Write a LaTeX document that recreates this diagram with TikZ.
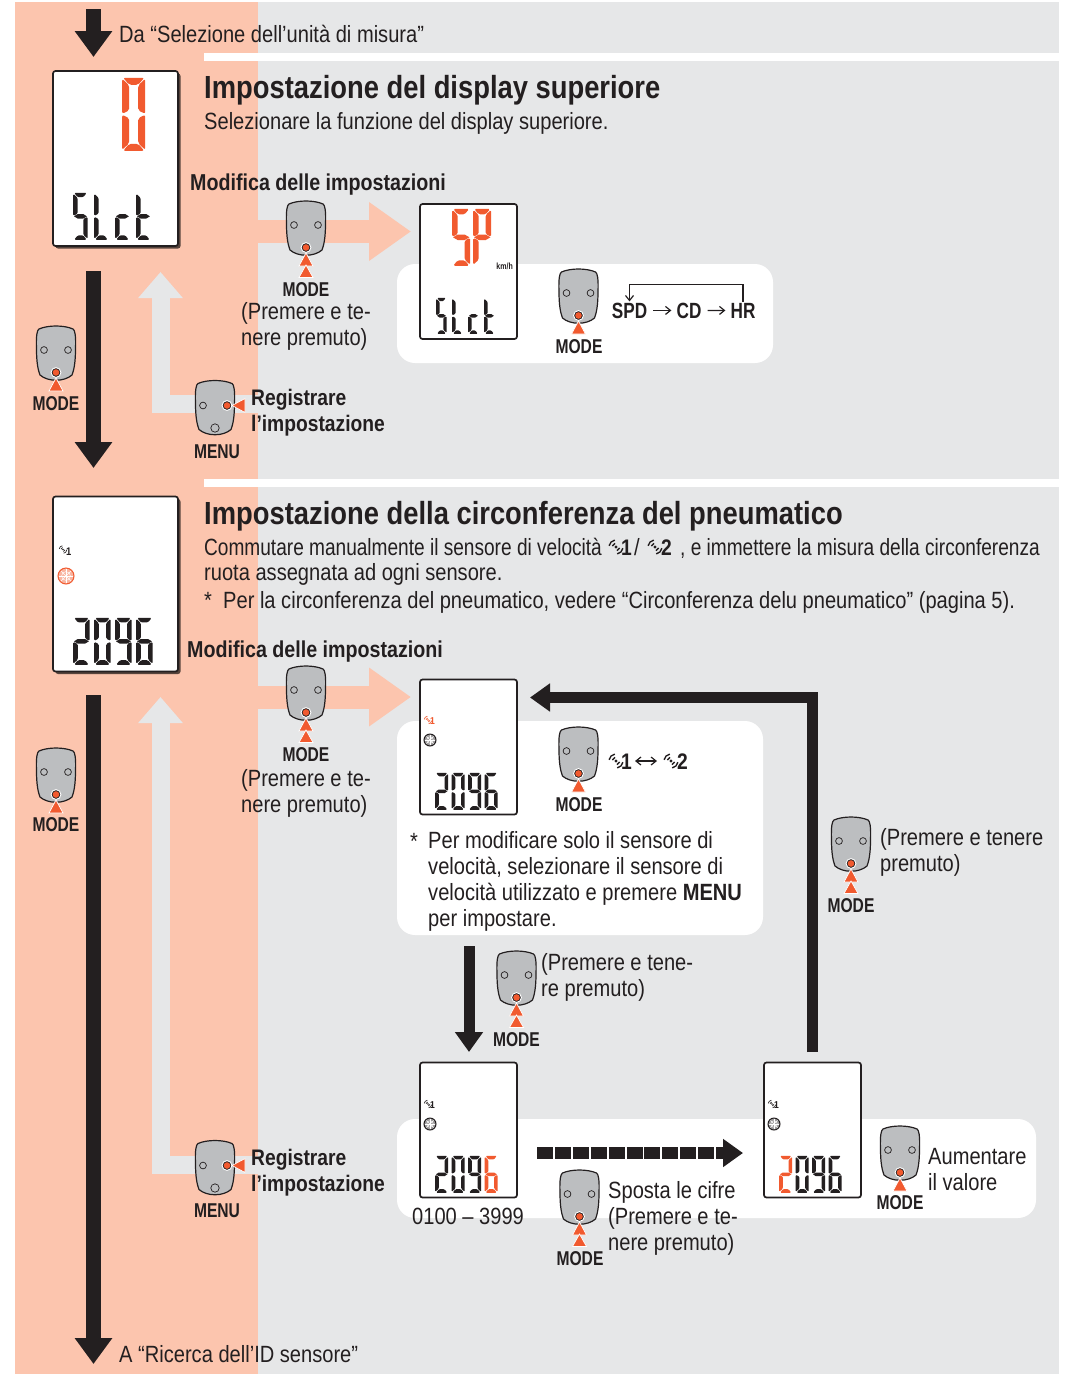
\documentclass[tikz,border=0pt]{standalone}
\usepackage{fontspec}
\setmainfont[FakeStretch=0.855]{Liberation Sans}
\newfontfamily\podfont[FakeStretch=0.78]{Liberation Sans}
\newfontfamily\tightfont[FakeStretch=0.812]{Liberation Sans}
\usetikzlibrary{arrows.meta,shadows}

\definecolor{pagegray}{HTML}{E6E7E8}
\definecolor{pagepink}{HTML}{FCC5AE}
\definecolor{podgray}{HTML}{BCBEC0}
\definecolor{inkblack}{HTML}{231F20}
\definecolor{lcdred}{HTML}{F15A2F}

% seven segments of one display character
\newcommand\lcdchar[1]{\tikz[x=1pt,y=1pt,baseline=0pt]{%
    \useasboundingbox (0,0) rectangle (\lcdp,\lcdh);
    \pgfmathsetmacro\lcdm{\lcdh/2}%
    \pgfmathsetmacro\lcdr{.28*\lcdt}%
    \edef\lcdlist{\csname lcdglyph#1\endcsname}%
    \foreach \lcds in \lcdlist {\csname lcdpoly\lcds\endcsname}%
}}
\def\lcdpolya{\fill[\lcdcol,rounded corners=\lcdr pt] (1,\lcdh) -- (\lcdw-1,\lcdh) -- (\lcdw-\lcdt,\lcdh-\lcdt) -- (\lcdt,\lcdh-\lcdt) -- cycle;}
\def\lcdpolyd{\fill[\lcdcol,rounded corners=\lcdr pt] (1,0) -- (\lcdw-1,0) -- (\lcdw-\lcdt,\lcdt) -- (\lcdt,\lcdt) -- cycle;}
\def\lcdpolyf{\fill[\lcdcol,rounded corners=\lcdr pt] (0,\lcdh-1) -- (\lcdt,\lcdh-\lcdt-.6) -- (\lcdt,\lcdm+\lcdt/2+.4) -- (0,\lcdm+.5) -- cycle;}
\def\lcdpolyb{\fill[\lcdcol,rounded corners=\lcdr pt] (\lcdw,\lcdh-1) -- (\lcdw-\lcdt,\lcdh-\lcdt-.6) -- (\lcdw-\lcdt,\lcdm+\lcdt/2+.4) -- (\lcdw,\lcdm+.5) -- cycle;}
\def\lcdpolye{\fill[\lcdcol,rounded corners=\lcdr pt] (0,1) -- (\lcdt,\lcdt+.6) -- (\lcdt,\lcdm-\lcdt/2-.4) -- (0,\lcdm-.5) -- cycle;}
\def\lcdpolyc{\fill[\lcdcol,rounded corners=\lcdr pt] (\lcdw,1) -- (\lcdw-\lcdt,\lcdt+.6) -- (\lcdw-\lcdt,\lcdm-\lcdt/2-.4) -- (\lcdw,\lcdm-.5) -- cycle;}
\def\lcdpolyg{\fill[\lcdcol] (.8,\lcdm) -- (\lcdt,\lcdm+\lcdt/2) -- (\lcdw-\lcdt,\lcdm+\lcdt/2) -- (\lcdw-.8,\lcdm) -- (\lcdw-\lcdt,\lcdm-\lcdt/2) -- (\lcdt,\lcdm-\lcdt/2) -- cycle;}
\expandafter\def\csname lcdglyph0\endcsname{a,b,c,d,e,f}
\expandafter\def\csname lcdglyph2\endcsname{a,b,g,e,d}
\expandafter\def\csname lcdglyph6\endcsname{a,f,g,c,d,e}
\expandafter\def\csname lcdglyph9\endcsname{a,b,c,d,f,g}
\expandafter\def\csname lcdglyphS\endcsname{a,f,g,c,d}
\expandafter\def\csname lcdglyphL\endcsname{f,e,d}
\expandafter\def\csname lcdglyphc\endcsname{g,e,d}
\expandafter\def\csname lcdglyphP\endcsname{a,b,f,g,e}
\expandafter\def\csname lcdglyphT\endcsname{f,e,d,g}
\def\lcdloop#1{\ifx#1\relax\else\lcdchar{#1}\expandafter\lcdloop\fi}
% width, height, stroke, pitch, colour, characters
\newcommand\lcdtext[6]{{\def\lcdw{#1}\def\lcdh{#2}\def\lcdt{#3}\def\lcdp{#4}\def\lcdcol{#5}\lcdloop#6\relax}}
\newcommand\lcdbig[2][inkblack]{\lcdtext{16.5}{47}{4.6}{21}{#1}{#2}}
\newcommand\lcdsmall[2][inkblack]{\lcdtext{13}{37}{3.6}{16.5}{#1}{#2}}

\tikzset{
    bodytext/.style={anchor=base west, inner sep=0pt, align=left, text=inkblack, font=\fontsize{23.5}{25.7}\selectfont},
    labeltext/.style={anchor=base west, inner sep=0pt, align=left, text=inkblack, font=\fontsize{22.5}{25.5}\selectfont\bfseries},
    edittext/.style={labeltext, font=\fontsize{23}{25.5}\selectfont\bfseries},
    headtext/.style={anchor=base west, inner sep=0pt, text=inkblack, font=\fontsize{32}{36}\selectfont\bfseries},
    podtext/.style={anchor=base, inner sep=0pt, text=inkblack, font=\podfont\fontsize{20}{22}\selectfont\bfseries},
    chaintext/.style={anchor=base, inner sep=1pt, text=inkblack, font=\podfont\fontsize{22}{24}\selectfont\bfseries},
    panelbox/.style={fill=white, rounded corners=18pt, inner sep=0pt},
    screenbox/.style={draw=inkblack, fill=white, line width=1.7pt, rounded corners=2.5pt, inner sep=0pt, minimum width=97pt, minimum height=135pt},
    bigscreen/.style={screenbox, minimum width=125pt, minimum height=175pt,
        drop shadow={shadow xshift=2.5pt, shadow yshift=-2.5pt, opacity=.65, fill=black}},
    lcdnode/.style={anchor=south west, inner sep=0pt},
    blackflow/.style={draw=inkblack, line width=15pt, -{Triangle[length=26pt,width=36pt]}},
    thinflow/.style={draw=inkblack, line width=11pt, -{Triangle[length=20pt,width=27pt]}},
    pinkflow/.style={draw=pagepink, line width=23pt, -{Triangle[length=42pt,width=56pt]}},
    grayflow/.style={draw=pagegray, line width=18pt, -{Triangle[length=26pt,width=43pt]}},
    chainflow/.style={draw=inkblack, line width=1.2pt, -{Straight Barb[length=5pt,width=8pt]}},
    podbody/.pic={
        \draw[draw=inkblack, fill=podgray, line width=1.2pt]
            (-17,-25) .. controls (-8,-29) and (8,-29) .. (17,-25)
            .. controls (19,-24) and (20,-18) .. (19.5,-5)
            .. controls (19.5,8) and (18,16) .. (16,21)
            .. controls (8,28) and (-8,28) .. (-16,21)
            .. controls (-18,16) and (-19.5,8) .. (-19.5,-5)
            .. controls (-20,-18) and (-19,-24) .. (-17,-25) -- cycle;
    },
    podhole/.style={draw=inkblack, fill=podgray, line width=.7pt},
    poddot/.style={draw=white, fill=inkblack, line width=.9pt},
    pushmark/.style={fill=lcdred, draw=white, line width=.7pt},
    modepod/.pic={
        \pic {podbody};
        \draw[podhole] (-12,-4) circle (3.4) (12,-4) circle (3.4);
        \draw[poddot] (0,18.5) circle (4.9);
        \fill[lcdred] (0,18.5) circle (3.3);
        \draw[pushmark] (0,24) -- (7,37) -- (-7,37) -- cycle;
    },
    modepodtwo/.pic={
        \pic {modepod};
        \draw[pushmark] (0,36) -- (7,48.5) -- (-7,48.5) -- cycle;
    },
    menupod/.pic={
        \pic {podbody};
        \draw[podhole] (-12,-3) circle (3.4) (0,19.5) circle (4.2);
        \draw[poddot] (12,-3) circle (4.9);
        \fill[lcdred] (12,-3) circle (3.3);
        \draw[pushmark] (17,-3) -- (30,-10) -- (30,4) -- cycle;
    },
    sensormark/.pic={
        \fill[#1] (0,0) circle (1.6);
        \draw[#1, line width=1.4pt] (15:3.7) arc[start angle=15, delta angle=60, radius=3.7]
            (195:3.7) arc[start angle=195, delta angle=60, radius=3.7]
            (10:7) arc[start angle=10, delta angle=70, radius=7]
            (190:7) arc[start angle=190, delta angle=70, radius=7];
    },
    tinysensor/.pic={
        \fill[#1] (0,0) circle (.8);
        \draw[#1, line width=.7pt] (10:2) arc[start angle=10, delta angle=70, radius=2]
            (190:2) arc[start angle=190, delta angle=70, radius=2]
            (10:3.8) arc[start angle=10, delta angle=70, radius=3.8]
            (190:3.8) arc[start angle=190, delta angle=70, radius=3.8];
    },
    wheelmark/.pic={
        \draw[draw=#1, fill=#1!45!white, line width=1pt] (0,0) circle (1);
        \draw[white, line width=.4pt] (0,0) circle (.55);
        \foreach \spoke in {0,45,90,135} {\draw[white, line width=.4pt] (\spoke:-.85) -- (\spoke:.85);}
    },
}

\begin{document}
\begin{tikzpicture}[x=1pt,y=-1pt]
    \useasboundingbox (0,0) rectangle (1067,1374);

    % page ground
    \fill[pagegray] (258,2) rectangle (1059,1374);
    \fill[pagepink] (15,2) rectangle (258,1374);
    \fill[white] (204,53) rectangle (1059,61);
    \fill[white] (204,479) rectangle (1059,487);

    % pale arrows behind the pods
    \coordinate (pinkTailA) at (258,231.5);
    \coordinate (pinkTipA) at (411,231.5);
    \coordinate (pinkTailB) at (258,697);
    \coordinate (pinkTipB) at (411,697);
    \coordinate (grayTailA) at (258,404);
    \coordinate (grayTipA) at (160.5,272);
    \coordinate (grayTailB) at (258,1164.5);
    \coordinate (grayTipB) at (160.5,697);
    \draw[pinkflow] (pinkTailA) -- (pinkTipA);
    \draw[pinkflow] (pinkTailB) -- (pinkTipB);
    \draw[grayflow] (grayTailA) -| (grayTipA);
    \draw[grayflow] (grayTailB) -| (grayTipB);

    % white panels
    \node[panelbox, minimum width=376pt, minimum height=99pt] (panelA) at (585,313.5) {};
    \node[panelbox, minimum width=366pt, minimum height=214pt] (panelB) at (580,828) {};
    \node[panelbox, minimum width=639pt, minimum height=99pt] (panelC) at (716.5,1168.5) {};

    % screens
    \node[bigscreen] (screenA) at (115.5,158.5) {};
    \node[bigscreen] (screenB) at (115.5,584) {};
    \node[screenbox] (screenC) at (468.5,271.5) {};
    \node[screenbox] (screenD) at (468.5,747) {};
    \node[screenbox] (screenE) at (468.5,1130) {};
    \node[screenbox] (screenF) at (812.5,1130) {};

    \node[lcdnode] (readA) at (122,151) {\lcdtext{23}{73}{7}{24}{lcdred}{0}};
    \node[lcdnode] (nameA) at (73,240) {\lcdtext{14.5}{47}{4.4}{21}{inkblack}{SLcT}};
    \node[lcdnode] (readC) at (452,266) {\lcdtext{18}{57}{5.5}{21}{lcdred}{SP}};
    \node[anchor=base east, inner sep=0pt, text=inkblack, font=\podfont\fontsize{9}{10}\selectfont\bfseries] (unitC) at (513,269) {km/h};
    \node[lcdnode] (nameC) at (436,334) {\lcdtext{10.5}{36}{3.4}{16}{inkblack}{SLcT}};
    \node[lcdnode] (readB) at (73,665) {\lcdbig{2096}};
    \node[lcdnode] (readD) at (435,810) {\lcdsmall{2096}};
    \node[lcdnode] (readE) at (435,1193) {\lcdsmall{209}\lcdsmall[lcdred]{6}};
    \node[lcdnode] (readF) at (779,1193) {\lcdsmall[lcdred]{2}\lcdsmall{096}};

    \pic at (63,549.5) {tinysensor=inkblack};
    \node[anchor=base west, inner sep=0pt, text=inkblack, font=\fontsize{11}{12}\selectfont\bfseries] (wayB) at (66,555) {1};
    \pic[scale=8] at (66,576) {wheelmark=lcdred};
    \pic at (428,720) {tinysensor=lcdred};
    \node[anchor=base west, inner sep=0pt, text=lcdred, font=\fontsize{10}{11}\selectfont\bfseries] (wayD) at (430,724) {1};
    \pic[scale=6] at (430,740) {wheelmark=inkblack};
    \pic at (428,1104) {tinysensor=inkblack};
    \node[anchor=base west, inner sep=0pt, text=inkblack, font=\fontsize{10}{11}\selectfont\bfseries] (wayE) at (430,1108) {1};
    \pic[scale=6] at (430,1124) {wheelmark=inkblack};
    \pic at (772,1104) {tinysensor=inkblack};
    \node[anchor=base west, inner sep=0pt, text=inkblack, font=\fontsize{10}{11}\selectfont\bfseries] (wayF) at (774,1108) {1};
    \pic[scale=6] at (774,1124) {wheelmark=inkblack};

    % black flow
    \coordinate (inTail) at (93.5,9);
    \coordinate (inTip) at (93.5,57);
    \coordinate (stepTail) at (93.5,271);
    \coordinate (stepTip) at (93.5,468);
    \coordinate (outTail) at (93.5,695);
    \coordinate (outTip) at (93.5,1364);
    \coordinate (downTail) at (469,946);
    \coordinate (downTip) at (469,1052);
    \coordinate (backTail) at (812.5,1052);
    \coordinate (backTip) at (530,697.5);
    \coordinate (moveTail) at (537,1153);
    \coordinate (moveTip) at (743,1153);
    \draw[blackflow] (inTail) -- (inTip);
    \draw[blackflow] (stepTail) -- (stepTip);
    \draw[blackflow] (outTail) -- (outTip);
    \draw[thinflow] (downTail) -- (downTip);
    \draw[thinflow] (backTail) |- (backTip);
    \draw[thinflow, line width=12pt, dash pattern=on 16pt off 1.9pt] (moveTail) -- (moveTip);

    % pods
    \pic at (306,229) {modepodtwo};
    \pic at (56,354) {modepod};
    \pic at (215,408.5) {menupod};
    \pic at (578.5,297) {modepod};
    \pic at (306,694) {modepodtwo};
    \pic at (56,776) {modepod};
    \pic at (578.5,755) {modepod};
    \pic at (851,845) {modepodtwo};
    \pic at (516.5,979) {modepodtwo};
    \pic at (215,1168.5) {menupod};
    \pic at (579.5,1198) {modepodtwo};
    \pic at (900,1154) {modepod};

    \node[podtext] (modeA) at (306,296) {MODE};
    \node[podtext] (modeB) at (56,410) {MODE};
    \node[podtext] (menuA) at (217,458) {MENU};
    \node[podtext] (modeC) at (579,353) {MODE};
    \node[podtext] (modeD) at (306,761) {MODE};
    \node[podtext] (modeE) at (56,831) {MODE};
    \node[podtext] (modeF) at (579,811) {MODE};
    \node[podtext] (modeG) at (851,912) {MODE};
    \node[podtext] (modeH) at (516.5,1046) {MODE};
    \node[podtext] (menuB) at (217,1217) {MENU};
    \node[podtext] (modeI) at (580,1265) {MODE};
    \node[podtext] (modeJ) at (900,1209) {MODE};

    % titles and notes
    \node[bodytext] (fromText) at (119,42) {Da “Selezione dell’unità di misura”};
    \node[headtext] (titleA) at (204,98) {Impostazione del display superiore};
    \node[bodytext] (introA) at (204,129) {Selezionare la funzione del display superiore.};
    \node[edittext] (editA) at (190,190) {Modifica delle impostazioni};
    \node[bodytext] (holdA) at (241,345) {(Premere e te-\\nere premuto)};
    \node[labeltext] (saveA) at (251,431) {Registrare\\l’impostazione};

    \node[chaintext] (spd) at (629.5,318) {SPD};
    \node[chaintext] (cd) at (689,318) {CD};
    \node[chaintext] (hr) at (743,318) {HR};
    \draw[chainflow, shorten <=5pt, shorten >=4pt] (spd) -- (cd);
    \draw[chainflow, shorten <=5pt, shorten >=4pt] (cd) -- (hr);
    \draw[chainflow] (hr.north) -- ++(0,-17) -| (spd.north);

    \node[headtext] (titleB) at (204,524) {Impostazione della circonferenza del pneumatico};
    \node[bodytext, font=\tightfont\fontsize{23.5}{25.7}\selectfont] (introB) at (204,555) {Commutare manualmente il sensore di velocità};
    \pic at (616,547) {sensormark=inkblack};
    \node[labeltext] (wayOne) at (621,555) {1};
    \node[bodytext] (wayBar) at (634,555) {/};
    \pic at (655,547) {sensormark=inkblack};
    \node[labeltext] (wayTwo) at (661,555) {2};
    \node[bodytext, font=\tightfont\fontsize{23.5}{25.7}\selectfont] (introC) at (680,555) {, e immettere la misura della circonferenza};
    \node[bodytext] (introD) at (204,580) {ruota assegnata ad ogni sensore.};
    \node[bodytext] (noteA) at (204,608) {*};
    \node[bodytext] (noteB) at (223,608) {Per la circonferenza del pneumatico, vedere “Circonferenza delu pneumatico” (pagina 5).};
    \node[edittext] (editB) at (187,657) {Modifica delle impostazioni};
    \node[bodytext] (holdB) at (241,812) {(Premere e te-\\nere premuto)};

    \pic at (616,761) {sensormark=inkblack};
    \node[labeltext] (swapOne) at (621,769) {1};
    \pic at (671,761) {sensormark=inkblack};
    \node[labeltext] (swapTwo) at (677,769) {2};
    \coordinate (swapLeft) at (635,761);
    \coordinate (swapRight) at (657,761);
    \draw[chainflow, {Straight Barb[length=5pt,width=8pt]}-{Straight Barb[length=5pt,width=8pt]}] (swapLeft) -- (swapRight);

    \node[bodytext] (starD) at (410,849) {*};
    \node[bodytext] (noteD) at (428,926) {Per modificare solo il sensore di\\velocità, selezionare il sensore di\\velocità utilizzato e premere {\bfseries MENU}\\per impostare.};
    \node[bodytext] (holdC) at (880,871) {(Premere e tenere\\premuto)};
    \node[bodytext] (holdD) at (541,996) {(Premere e tene-\\re premuto)};
    \node[labeltext] (saveB) at (251,1191) {Registrare\\l’impostazione};
    \node[bodytext] (rangeE) at (412,1224) {0100 – 3999};
    \node[bodytext] (shiftE) at (608,1250) {Sposta le cifre\\(Premere e te-\\nere premuto)};
    \node[bodytext] (raiseF) at (928,1190) {Aumentare\\il valore};
    \node[bodytext] (toText) at (119,1362) {A “Ricerca dell’ID sensore”};
\end{tikzpicture}
\end{document}
